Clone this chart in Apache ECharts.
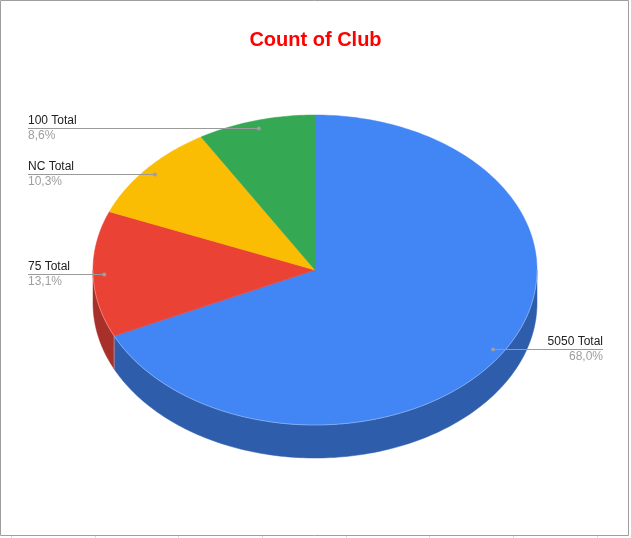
<!DOCTYPE html>
<html>
<head>
<meta charset="utf-8">
<script src="https://cdn.jsdelivr.net/npm/echarts@6/dist/echarts.min.js"></script>
<style>
html,body{margin:0;padding:0;background:#fff;}
#c{width:631px;height:538px;}
</style>
</head>
<body>
<div id="c"></div>
<script>
// ---- data ----
var categories = ['5050 Total', '75 Total', 'NC Total', '100 Total'];
var counts = [119, 23, 18, 15];
var topColors = ['#4285F4', '#EA4335', '#FBBC04', '#34A853'];
var sideColors = ['#2E5DAC', '#A8302A', '#B38600', '#24763B'];

var total = counts.reduce(function (a, b) { return a + b; }, 0);
var starts = [];
(function () { var s = 0; for (var i = 0; i < counts.length; i++) { starts.push(s); s += counts[i]; } })();

function pctLabel(v) { return (v / total * 100).toFixed(1).replace('.', ',') + '%'; }

var chart = echarts.init(document.getElementById('c'), null, { renderer: 'canvas' });

var FONT = '"Liberation Sans", Arial, sans-serif';

function renderItem(params, api) {
  var i = params.dataIndex;
  var cx = 315, cy = 270, rx = 222, ry = 155, depth = 33;
  var leftX = 28, rightX = 603;
  var a0 = starts[i] / total * 360;
  var a1 = (starts[i] + counts[i]) / total * 360;
  function pt(deg, f, dy) {
    var t = deg * Math.PI / 180;
    return [cx + rx * f * Math.sin(t), cy - ry * f * Math.cos(t) + (dy || 0)];
  }
  function arc(from, to, dy) {
    var pts = [];
    var n = Math.max(2, Math.ceil(Math.abs(to - from)));
    for (var k = 0; k <= n; k++) pts.push(pt(from + (to - from) * k / n, 1, dy));
    return pts;
  }
  var children = [];
  // side face (front half: 90..270 degrees)
  var s0 = Math.max(a0, 90), s1 = Math.min(a1, 270);
  if (s1 > s0) {
    var topArc = arc(s0, s1, 0);
    var botArc = arc(s1, s0, depth);
    children.push({
      type: 'polygon', z2: 1,
      shape: { points: topArc.concat(botArc) },
      style: { fill: sideColors[i], stroke: sideColors[i], lineWidth: 0.5 }
    });
    if (a0 >= 90 && a0 <= 270) {
      var e = pt(a0, 1, 0);
      children.push({ type: 'line', z2: 2, shape: { x1: e[0], y1: e[1], x2: e[0], y2: e[1] + depth },
        style: { stroke: 'rgba(255,255,255,0.35)', lineWidth: 1 } });
    }
    children.push({ type: 'polyline', z2: 11, shape: { points: topArc },
      style: { stroke: 'rgba(255,255,255,0.3)', lineWidth: 1, fill: null } });
  }
  // top face
  var topPts = [[cx, cy]].concat(arc(a0, a1, 0));
  children.push({
    type: 'polygon', z2: 10,
    shape: { points: topPts },
    style: { fill: topColors[i], stroke: topColors[i], lineWidth: 0.5 }
  });
  // label
  var mid = (a0 + a1) / 2;
  var d = pt(mid, 0.95, 0);
  var isLeft = Math.sin(mid * Math.PI / 180) < 0;
  var lx = isLeft ? leftX : rightX;
  var ly = Math.round(d[1]) + 0.5;
  children.push({ type: 'line', z2: 20, shape: { x1: d[0], y1: ly, x2: lx, y2: ly },
    style: { stroke: '#9a9a9a', lineWidth: 1 } });
  children.push({ type: 'circle', z2: 21, shape: { cx: d[0], cy: ly, r: 2 },
    style: { fill: '#9e9e9e' } });
  children.push({ type: 'text', z2: 22, style: {
    x: lx, y: ly - 1.5, text: categories[i], fill: '#222222', fontSize: 12, fontFamily: FONT,
    align: isLeft ? 'left' : 'right', verticalAlign: 'bottom' } });
  children.push({ type: 'text', z2: 22, style: {
    x: lx, y: ly + 1.5, text: pctLabel(counts[i]), fill: '#9e9e9e', fontSize: 12, fontFamily: FONT,
    align: isLeft ? 'left' : 'right', verticalAlign: 'top' } });
  return { type: 'group', children: children };
}

var gridTicks = [];
[11, 95, 178, 262, 346, 429, 513, 597].forEach(function (x) {
  gridTicks.push({ type: 'line', shape: { x1: x + 0.5, y1: 536, x2: x + 0.5, y2: 538 }, style: { stroke: '#dadada', lineWidth: 1 } });
});

chart.setOption({
  backgroundColor: '#ffffff',
  animation: false,
  title: {
    text: 'Count of Club', left: 'center', top: 25,
    textStyle: { color: '#ff0000', fontSize: 20, fontWeight: 'bold', fontFamily: FONT }
  },
  graphic: [
    { type: 'rect', shape: { x: 0.5, y: 0.5, width: 628, height: 535 }, style: { fill: 'none', stroke: '#9e9e9e', lineWidth: 1 }, z: -1 }
  ].concat(gridTicks),
  series: [{
    type: 'custom',
    coordinateSystem: 'none',
    renderItem: renderItem,
    data: counts.map(function (v, i) { return { name: categories[i], value: v }; })
  }]
});
</script>
</body>
</html>
